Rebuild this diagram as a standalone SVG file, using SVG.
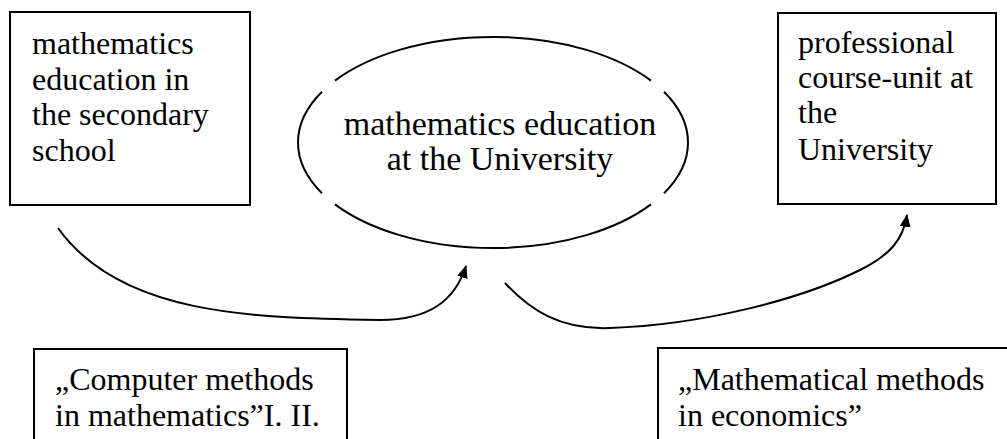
<svg xmlns="http://www.w3.org/2000/svg" width="1007" height="439" viewBox="0 0 1007 439">
<style>
.box{fill:#fff;stroke:#000;stroke-width:2}
.t{font-family:"Liberation Serif","Times New Roman",serif;font-size:32px;fill:#000}
.big{font-size:34px}
.line{fill:none;stroke:#000;stroke-width:2}
</style>
<defs>
<marker id="ah" viewBox="0 0 12 10" refX="11" refY="5" markerWidth="13" markerHeight="11" markerUnits="userSpaceOnUse" orient="auto">
<path d="M0,0 L12,5 L0,10 Z" fill="#000"/>
</marker>
</defs>
<g id="n1">
<rect class="box" x="10" y="12" width="240" height="193"/>
<text class="t" x="32" y="54">mathematics</text>
<text class="t" x="32" y="90">education in</text>
<text class="t" x="32" y="125">the secondary</text>
<text class="t" x="32" y="161">school</text>
</g>
<g id="n2">
<path class="line" d="M335,80.6 A195,105.5 0 0 1 651,80.6 M664,91.8 A195,105.5 0 0 1 664,193.2 M651,204.4 A195,105.5 0 0 1 335,204.4 M322,193.2 A195,105.5 0 0 1 322,91.8"/>
<text class="t big" x="500" y="135" text-anchor="middle">mathematics education</text>
<text class="t big" x="500" y="170" text-anchor="middle">at the University</text>
</g>
<g id="n3">
<rect class="box" x="778" y="13" width="218" height="191"/>
<text class="t" x="798" y="53">professional</text>
<text class="t" x="798" y="88">course-unit at</text>
<text class="t" x="798" y="123">the</text>
<text class="t" x="798" y="160">University</text>
</g>
<g id="n4">
<rect class="box" x="34" y="349" width="313" height="120"/>
<text class="t" x="55" y="390">„Computer methods</text>
<text class="t" x="55" y="426">in mathematics”I. II.</text>
</g>
<g id="n5">
<rect class="box" x="658" y="348" width="380" height="120"/>
<text class="t" x="678" y="390">„Mathematical methods</text>
<text class="t" x="678" y="426">in economics”</text>
</g>
<g id="connectors">
<path class="line" d="M58,228 C120,315 250,318 380,320 C430,320 455,300 466,266" marker-end="url(#ah)"/>
<path class="line" d="M505,283 C530,310 560,330 610,328 C700,325 800,300 860,270 C890,255 903,240 907,215" marker-end="url(#ah)"/>
</g>
</svg>
